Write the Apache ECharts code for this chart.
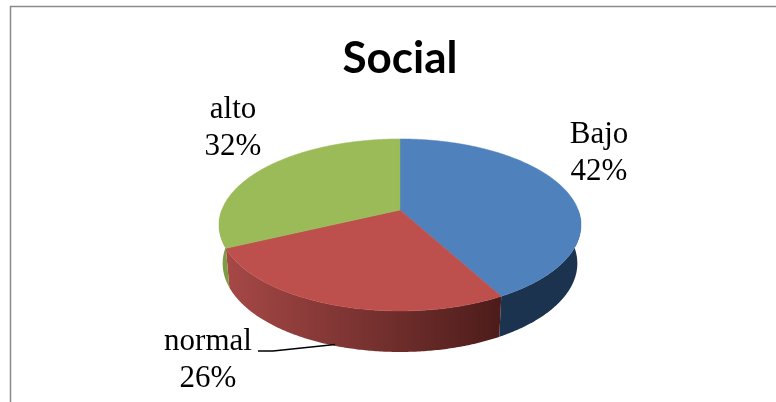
<!DOCTYPE html>
<html>
<head>
<meta charset="utf-8">
<style>html,body{margin:0;padding:0;background:#fff}#c{width:776px;height:402px}</style>
<script src="https://cdn.jsdelivr.net/npm/echarts@6/dist/echarts.min.js"></script>
</head>
<body>
<div id="c"></div>
<script>
const chartTitle = 'Social';
const categories = ['Bajo', 'normal', 'alto'];
const values = [42, 26, 32];

const topColors = ['#4f81bd', '#bd4f4c', '#9bbb59'];
const sideStops = [
  [[0, '#1c3350'], [1, '#1c3350']],
  [[0, '#a54846'], [0.55, '#74302e'], [1, '#4c1c1a']],
  [[0, '#7d9a45'], [1, '#7d9a45']]
];
const labelPos = [[599, 153], [208, 360], [233, 128]];

// Perspective projection of the unit circle (tilted disc)
const CX = 400, CY = 210, K = 0.174, AY = 83.4, BX = 178.2;
function topPt(t) {
  const u = Math.sin(t), v = -Math.cos(t), w = 1 - K * v;
  return [CX + BX * u / w, CY + AY * v / w];
}
function botPt(t) {
  const u = Math.sin(t), v = -Math.cos(t), w = 1 - K * v;
  return [CX + 0.98 * BX * u / w, CY + 38 + 1.03 * AY * v / w];
}
function arc(fn, a, b) {
  const n = Math.max(2, Math.ceil(Math.abs(b - a) / 0.01));
  const pts = [];
  for (let i = 0; i <= n; i++) pts.push(fn(a + (b - a) * i / n));
  return pts;
}
const total = values.reduce((s, v) => s + v, 0);
function range(i) {
  let s = 0;
  for (let j = 0; j < i; j++) s += values[j];
  return [s / total * 2 * Math.PI, (s + values[i]) / total * 2 * Math.PI];
}
const rowData = values.map((v, i) => [i, v]);

const chart = echarts.init(document.getElementById('c'), null, { renderer: 'canvas' });
chart.setOption({
  animation: false,
  backgroundColor: '#fff',
  title: {
    text: chartTitle, left: 337.5, top: 32, textAlign: 'left',
    textStyle: { fontFamily: 'Lato', fontWeight: 'bold', fontSize: 44, color: '#000' }
  },
  tooltip: { show: false },
  graphic: [{
    type: 'polyline', silent: true,
    shape: { points: [[10.5, 402], [10.5, 6.5], [776, 6.5]] },
    style: { stroke: '#8a8a8a', lineWidth: 1.5, fill: null }
  }, {
    type: 'polyline', silent: true, z: 10,
    shape: { points: [[258, 351], [273, 351], [335, 344.5]] },
    style: { stroke: '#000', lineWidth: 1.5, fill: null }
  }],
  series: [{
    type: 'custom', coordinateSystem: 'none', z: 2, data: rowData, silent: true,
    renderItem(p, api) {
      const i = api.value(0);
      const [a, b] = range(i);
      const s = Math.max(a, Math.PI / 2), e = Math.min(b, 1.5 * Math.PI);
      if (e <= s) return { type: 'group', children: [] };
      const pts = arc(topPt, s, e).concat(arc(botPt, e, s));
      return {
        type: 'polygon',
        shape: { points: pts },
        style: { fill: new echarts.graphic.LinearGradient(228, 0, 502, 0,
          sideStops[i].map(d => ({ offset: d[0], color: d[1] })), true) }
      };
    }
  }, {
    type: 'custom', coordinateSystem: 'none', z: 3, data: rowData, silent: true,
    renderItem(p, api) {
      const i = api.value(0);
      const [a, b] = range(i);
      return {
        type: 'polygon',
        shape: { points: [[CX, CY]].concat(arc(topPt, a, b)) },
        style: { fill: topColors[i], stroke: topColors[i], lineWidth: 0.5 }
      };
    }
  }, {
    type: 'custom', coordinateSystem: 'none', z: 4, data: rowData, silent: true,
    renderItem(p, api) {
      const i = api.value(0);
      return {
        type: 'text',
        style: {
          x: labelPos[i][0], y: labelPos[i][1],
          text: categories[i] + '\n' + Math.round(api.value(1) / total * 100) + '%',
          fontFamily: 'Liberation Serif', fontSize: 31, lineHeight: 37,
          align: 'center', verticalAlign: 'middle', fill: '#000'
        }
      };
    }
  }]
});
</script>
</body>
</html>
